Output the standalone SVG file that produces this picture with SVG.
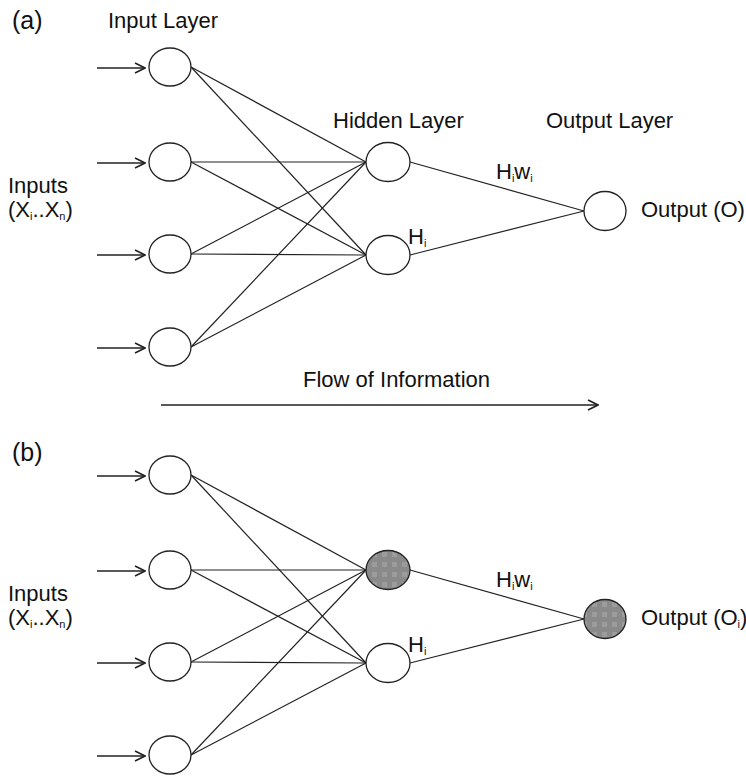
<svg xmlns="http://www.w3.org/2000/svg" width="746" height="776" viewBox="0 0 746 776">
<style>
  text { font-family: "Liberation Sans", Arial, sans-serif; font-size: 22px; fill: #111; }
  .lbl { font-size: 25px; }
  .sub { font-size: 11px; }
  .node { fill: #fff; stroke: #222; stroke-width: 1.3; }
  .dark { fill: url(#tex); stroke: #222; stroke-width: 1.3; }
  .edge { stroke: #222; stroke-width: 1.2; fill: none; }
  .arr { stroke: #222; stroke-width: 1.4; fill: none; marker-end: url(#chev); }
</style>
<defs>
  <marker id="chev" viewBox="0 0 12 12" refX="11" refY="6" markerWidth="12" markerHeight="12" markerUnits="userSpaceOnUse" orient="auto">
    <path d="M1,1 L11,6 L1,11" fill="none" stroke="#222" stroke-width="1.6"/>
  </marker>
  <pattern id="tex" width="10" height="10" patternUnits="userSpaceOnUse">
    <rect width="10" height="10" fill="#8a8a8a"/>
    <rect x="2" y="2" width="5" height="5" fill="#9c9c9c"/>
  </pattern>
</defs>

<!-- Panel (a) -->
<text class="lbl" x="12" y="29">(a)</text>
<text x="108" y="28">Input Layer</text>
<text x="333" y="128">Hidden Layer</text>
<text x="546" y="128">Output Layer</text>
<text x="8" y="193">Inputs</text>
<text x="8" y="217">(X<tspan class="sub" dy="3">i</tspan><tspan dy="-3">..X</tspan><tspan class="sub" dy="3">n</tspan><tspan dy="-3">)</tspan></text>
<text x="496" y="179">H<tspan class="sub" dy="3">i</tspan><tspan dy="-3">w</tspan><tspan class="sub" dy="3">i</tspan></text>
<text x="408" y="244">H<tspan class="sub" dy="3">i</tspan></text>
<text x="641" y="217">Output (O)</text>
<text x="303" y="387">Flow of Information</text>

<g id="connectors-a">
  <line class="arr" x1="97" y1="68" x2="145" y2="68"/>
  <line class="arr" x1="97" y1="163" x2="145" y2="163"/>
  <line class="arr" x1="97" y1="255" x2="145" y2="255"/>
  <line class="arr" x1="97" y1="348" x2="145" y2="348"/>
  <line class="edge" x1="191" y1="67" x2="366" y2="162"/>
  <line class="edge" x1="191" y1="67" x2="366" y2="255"/>
  <line class="edge" x1="191" y1="162" x2="366" y2="162"/>
  <line class="edge" x1="191" y1="162" x2="366" y2="255"/>
  <line class="edge" x1="191" y1="254" x2="366" y2="162"/>
  <line class="edge" x1="191" y1="254" x2="366" y2="255"/>
  <line class="edge" x1="191" y1="347" x2="366" y2="162"/>
  <line class="edge" x1="191" y1="347" x2="366" y2="255"/>
  <line class="edge" x1="410" y1="162" x2="584" y2="211"/>
  <line class="edge" x1="410" y1="255" x2="584" y2="211"/>
  <line class="arr" x1="161" y1="405" x2="598" y2="405"/>
</g>
<g id="a-in1"><ellipse class="node" cx="170" cy="67" rx="21" ry="19"/></g>
<g id="a-in2"><ellipse class="node" cx="170" cy="162" rx="21" ry="19"/></g>
<g id="a-in3"><ellipse class="node" cx="170" cy="254" rx="21" ry="19"/></g>
<g id="a-in4"><ellipse class="node" cx="170" cy="347" rx="21" ry="19"/></g>
<g id="a-h1"><ellipse class="node" cx="388" cy="162" rx="22" ry="19.5"/></g>
<g id="a-h2"><ellipse class="node" cx="388" cy="255" rx="22" ry="19.5"/></g>
<g id="a-out"><ellipse class="node" cx="605" cy="211" rx="21" ry="19.5"/></g>

<!-- Panel (b) -->
<text class="lbl" x="12" y="461">(b)</text>
<text x="8" y="601">Inputs</text>
<text x="8" y="625">(X<tspan class="sub" dy="3">i</tspan><tspan dy="-3">..X</tspan><tspan class="sub" dy="3">n</tspan><tspan dy="-3">)</tspan></text>
<text x="496" y="587">H<tspan class="sub" dy="3">i</tspan><tspan dy="-3">w</tspan><tspan class="sub" dy="3">i</tspan></text>
<text x="408" y="652">H<tspan class="sub" dy="3">i</tspan></text>
<text x="641" y="625">Output (O<tspan class="sub" dy="3">i</tspan><tspan dy="-3">)</tspan></text>

<g id="connectors-b">
  <line class="arr" x1="97" y1="476" x2="145" y2="476"/>
  <line class="arr" x1="97" y1="571" x2="145" y2="571"/>
  <line class="arr" x1="97" y1="663" x2="145" y2="663"/>
  <line class="arr" x1="97" y1="756" x2="145" y2="756"/>
  <line class="edge" x1="191" y1="475" x2="366" y2="570"/>
  <line class="edge" x1="191" y1="475" x2="366" y2="663"/>
  <line class="edge" x1="191" y1="570" x2="366" y2="570"/>
  <line class="edge" x1="191" y1="570" x2="366" y2="663"/>
  <line class="edge" x1="191" y1="662" x2="366" y2="570"/>
  <line class="edge" x1="191" y1="662" x2="366" y2="663"/>
  <line class="edge" x1="191" y1="755" x2="366" y2="570"/>
  <line class="edge" x1="191" y1="755" x2="366" y2="663"/>
  <line class="edge" x1="410" y1="570" x2="584" y2="619"/>
  <line class="edge" x1="410" y1="663" x2="584" y2="619"/>
</g>
<g id="b-in1"><ellipse class="node" cx="170" cy="475" rx="21" ry="19"/></g>
<g id="b-in2"><ellipse class="node" cx="170" cy="570" rx="21" ry="19"/></g>
<g id="b-in3"><ellipse class="node" cx="170" cy="662" rx="21" ry="19"/></g>
<g id="b-in4"><ellipse class="node" cx="170" cy="755" rx="21" ry="19"/></g>
<g id="b-h1"><ellipse class="dark" cx="388" cy="570" rx="22" ry="19.5"/></g>
<g id="b-h2"><ellipse class="node" cx="388" cy="663" rx="22" ry="19.5"/></g>
<g id="b-out"><ellipse class="dark" cx="605" cy="619" rx="21" ry="19.5"/></g>
</svg>
